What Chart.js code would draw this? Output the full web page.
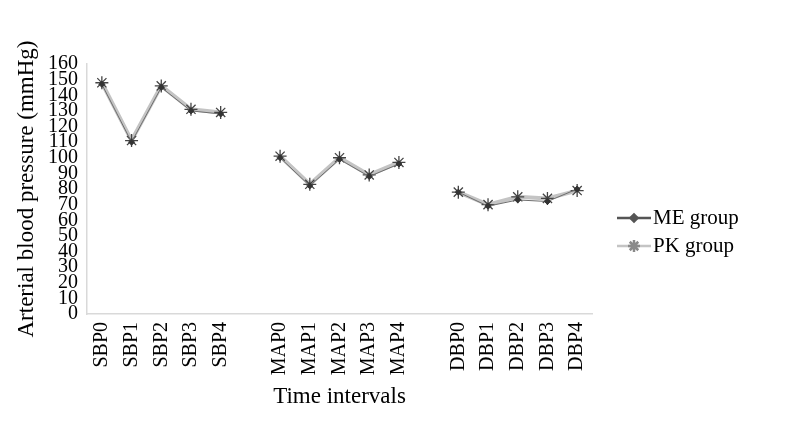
<!DOCTYPE html>
<html>
<head>
<meta charset="utf-8">
<script src="https://cdn.jsdelivr.net/npm/chart.js@4"></script>
<style>
  html, body { margin: 0; padding: 0; background: #fff; }
  #wrap { width: 801px; height: 432px; }
</style>
</head>
<body>
<div id="wrap"><canvas id="myChart"></canvas></div>
<script>
// categories (empty ones are the gaps between groups)
var categories = ['SBP0', 'SBP1', 'SBP2', 'SBP3', 'SBP4', '',
                  'MAP0', 'MAP1', 'MAP2', 'MAP3', 'MAP4', '',
                  'DBP0', 'DBP1', 'DBP2', 'DBP3', 'DBP4'];
var meGroup = [147, 110, 145, 130, 128, null, 100, 82, 99, 88, 96, null, 78, 69, 73, 72, 80];
var pkGroup = [148, 111, 146, 131, 129, null, 101, 83, 100, 89, 97, null, 78, 70, 75, 74, 79];
var yMin = 0, yMax = 160, yStep = 10;

var serif = "'Liberation Serif', 'DejaVu Serif', serif";

// legend drawn as line + marker like the original
var legendPlugin = {
    id: 'sideLegend',
    afterDraw: function (chart) {
        var ctx = chart.ctx;
        var x0 = 617, x1 = 651, y = 218, step = 28;
        chart.data.datasets.forEach(function (ds, i) {
            var yy = y + i * step;
            ctx.save();
            ctx.strokeStyle = ds.legendLineColor;
            ctx.lineWidth = 2.5;
            ctx.beginPath();
            ctx.moveTo(x0, yy);
            ctx.lineTo(x1, yy);
            ctx.stroke();
            ctx.strokeStyle = ds.legendPointColor;
            ctx.fillStyle = ds.legendPointColor;
            Chart.helpers.drawPoint(ctx, {
                pointStyle: ds.pointStyle,
                radius: ds.legendPointRadius,
                borderWidth: 1
            }, (x0 + x1) / 2, yy);
            ctx.restore();
            ctx.save();
            ctx.fillStyle = '#000';
            ctx.font = "21px " + serif;
            ctx.textBaseline = 'middle';
            ctx.fillText(ds.label, x1 + 2, yy);
            ctx.restore();
        });
    }
};

var ctx = document.getElementById('myChart').getContext('2d');
var myChart = new Chart(ctx, {
    type: 'line',
    data: {
        labels: categories,
        datasets: [{
            label: 'ME group',
            data: meGroup,
            borderColor: '#6e6e6e',
            pointBackgroundColor: '#333',
            pointBorderColor: '#333',
            borderWidth: 1,
            pointStyle: 'rectRot',
            pointRadius: 3,
            legendLineColor: '#555',
            legendPointColor: '#555',
            legendPointRadius: 3.5,
            tension: 0
        }, {
            label: 'PK group',
            data: pkGroup,
            borderColor: '#c4c4c4',
            pointBackgroundColor: '#444',
            pointBorderColor: '#444',
            pointBorderWidth: 1.3,
            borderWidth: 4,
            pointStyle: 'star',
            pointRadius: 6.5,
            legendLineColor: '#c4c4c4',
            legendPointColor: '#8a8a8a',
            legendPointRadius: 6,
            tension: 0
        }]
    },
    options: {
        responsive: true,
        maintainAspectRatio: false,
        animation: false,
        layout: { padding: { left: 9, right: 209, top: 64, bottom: 17 } },
        plugins: {
            legend: { display: false },
            tooltip: { enabled: false }
        },
        scales: {
            x: {
                offset: true,
                grid: { display: false, drawTicks: false },
                border: { color: '#d9d9d9', width: 1.5 },
                ticks: {
                    color: '#000',
                    font: { family: serif, size: 20 },
                    maxRotation: 90,
                    minRotation: 90,
                    autoSkip: false,
                    padding: 8
                },
                title: {
                    display: true,
                    text: 'Time intervals',
                    color: '#000',
                    font: { family: serif, size: 23 }
                },
                afterFit: function (scale) { scale.height = 101; }
            },
            y: {
                min: yMin,
                max: yMax,
                grid: { display: false, drawTicks: false },
                border: { color: '#d9d9d9', width: 1.5 },
                ticks: {
                    stepSize: yStep,
                    autoSkip: false,
                    color: '#000',
                    font: { family: serif, size: 20 },
                    padding: 9
                },
                title: {
                    display: true,
                    text: 'Arterial blood pressure (mmHg)',
                    color: '#000',
                    font: { family: serif, size: 23 }
                },
                afterFit: function (scale) { scale.width = 78; }
            }
        }
    },
    plugins: [legendPlugin]
});
</script>
</body>
</html>
